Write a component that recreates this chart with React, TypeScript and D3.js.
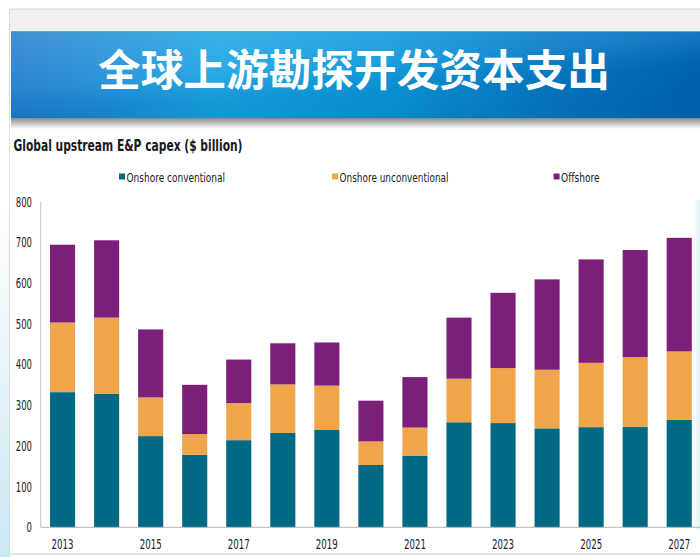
import React from "react";
import * as d3 from "d3";

const years = ["2013","2014","2015","2016","2017","2018","2019","2020","2021","2022","2023","2024","2025","2026","2027"];
const onshoreConventional = [332,328,224,178,214,232,239,153,176,258,256,243,246,247,264];
const onshoreUnconventional = [171,187,95,51,91,119,109,58,69,107,135,144,158,171,168];
const offshore = [191,190,167,121,107,101,106,100,124,150,185,222,254,263,279];
const seriesNames = ["Onshore conventional","Onshore unconventional","Offshore"];
const seriesColors = ["#006a84","#efa54a","#7b1f7b"];
const yTicks = [0,100,200,300,400,500,600,700,800];
const xTickLabels = ["2013","2015","2017","2019","2021","2023","2025","2027"];
const bannerTitle = "全球上游勘探开发资本支出";
const chartTitle = "Global upstream E&P capex ($ billion)";

const NARROW = "'Liberation Sans Narrow', 'Arial Narrow', 'DejaVu Sans Condensed', 'Liberation Sans', sans-serif";

export default function App() {
  const W = 700, H = 557;
  const x = d3.scaleBand<string>().domain(years).range([40.5, 701.3]).paddingInner(0.43).paddingOuter(0.216);
  const y = d3.scaleLinear().domain([0, 800]).range([527.3, 201.6]);
  const table = years.map((yr, i) => ({
    year: yr,
    [seriesNames[0]]: onshoreConventional[i],
    [seriesNames[1]]: onshoreUnconventional[i],
    [seriesNames[2]]: offshore[i],
  }));
  const stacked = d3.stack<any>().keys(seriesNames)(table);
  const legendX = [119, 332, 553.6];
  const legendW = [98.5, 109, 38.5];

  return (
    <svg width={W} height={H} style={{ position: "absolute", left: 0, top: 0 }}>
      <defs>
        <linearGradient id="bannerH" x1="0" x2="1" y1="0" y2="0">
          <stop offset="0" stopColor="#1a78cc" />
          <stop offset="0.3" stopColor="#16a2e2" />
          <stop offset="0.55" stopColor="#0a96da" />
          <stop offset="0.8" stopColor="#0478c6" />
          <stop offset="1" stopColor="#0068b8" />
        </linearGradient>
        <linearGradient id="bannerD" x1="0" x2="0.6" y1="0" y2="1">
          <stop offset="0" stopColor="#ffffff" stopOpacity="0.18" />
          <stop offset="0.5" stopColor="#ffffff" stopOpacity="0.08" />
          <stop offset="0.75" stopColor="#000000" stopOpacity="0.05" />
          <stop offset="1" stopColor="#000000" stopOpacity="0.08" />
        </linearGradient>
        <linearGradient id="shadow" x1="0" x2="0" y1="0" y2="1">
          <stop offset="0" stopColor="#8a8a8a" />
          <stop offset="1" stopColor="#ffffff" />
        </linearGradient>
        <linearGradient id="leftGlow" x1="0" x2="0" y1="0" y2="1">
          <stop offset="0" stopColor="#ffffff" />
          <stop offset="0.5" stopColor="#e6f4fa" />
          <stop offset="1" stopColor="#c9e8f5" />
        </linearGradient>
        <linearGradient id="rightGlow" x1="0" x2="1" y1="0" y2="0">
          <stop offset="0" stopColor="#ffffff" stopOpacity="0" />
          <stop offset="1" stopColor="#d5eef8" stopOpacity="0.9" />
        </linearGradient>
      </defs>

      <rect x={0} y={0} width={W} height={H} fill="#ffffff" />
      <rect x={0} y={200} width={10} height={H - 200} fill="url(#leftGlow)" />
      <rect x={690} y={200} width={10} height={330} fill="url(#rightGlow)" />

      {/* frame */}
      <rect x={10} y={9} width={W - 10} height={22} fill="#f1f1f1" />
      <line x1={10} x2={W} y1={9} y2={9} stroke="#dadada" />
      <line x1={9.5} x2={9.5} y1={9} y2={554} stroke="#dcdcdc" />
      <line x1={10} x2={W} y1={554} y2={554} stroke="#e2e2e2" strokeWidth={2} />

      {/* banner */}
      <rect x={11} y={118} width={W - 11} height={11} fill="url(#shadow)" />
      <rect x={11} y={31} width={W - 11} height={87} fill="url(#bannerH)" />
      <rect x={11} y={31} width={W - 11} height={87} fill="url(#bannerD)" />
      <line x1={11} x2={W} y1={31.5} y2={31.5} stroke="#5aa6dc" />
      <text
        x={354}
        y={86}
        textAnchor="middle"
        fill="#ffffff"
        fontFamily="'Noto Sans CJK SC', sans-serif"
        fontWeight={700}
        fontSize={43}
        textLength={512}
        lengthAdjust="spacingAndGlyphs"
      >
        {bannerTitle}
      </text>

      {/* chart title */}
      <text x={13.5} y={151} fontFamily={NARROW} fontWeight={700} fontSize={16} fill="#1a1a1a" textLength={229} lengthAdjust="spacingAndGlyphs">
        {chartTitle}
      </text>

      {/* legend */}
      {seriesNames.map((n, i) => (
        <g key={n}>
          <rect x={legendX[i]} y={173.5} width={6} height={6} fill={seriesColors[i]} />
          <text x={legendX[i] + 7.5} y={181.5} fontFamily={NARROW} fontSize={13} fill="#222" textLength={legendW[i]} lengthAdjust="spacingAndGlyphs">
            {n}
          </text>
        </g>
      ))}

      {/* bars */}
      {stacked.map((s, si) => (
        <g key={s.key} fill={seriesColors[si]}>
          {s.map((d: any) => (
            <rect
              key={d.data.year}
              x={x(d.data.year)}
              y={y(d[1])}
              width={x.bandwidth()}
              height={y(d[0]) - y(d[1])}
            />
          ))}
        </g>
      ))}

      {/* axes */}
      <line x1={40.7} x2={40.7} y1={201.6} y2={527.3} stroke="#c4c4c4" />
      <line x1={40.7} x2={W} y1={527.3} y2={527.3} stroke="#b4b4b4" />
      {yTicks.map((t) => (
        <text key={t} x={32} y={y(t) + 5} textAnchor="end" fontFamily={NARROW} fontSize={14} fill="#222"
          textLength={String(t).length * 5.4} lengthAdjust="spacingAndGlyphs">
          {t}
        </text>
      ))}
      {xTickLabels.map((t) => (
        <text key={t} x={(x(t) as number) + x.bandwidth() / 2} y={549} textAnchor="middle" fontFamily={NARROW} fontSize={14} fill="#222"
          textLength={22} lengthAdjust="spacingAndGlyphs">
          {t}
        </text>
      ))}
    </svg>
  );
}
